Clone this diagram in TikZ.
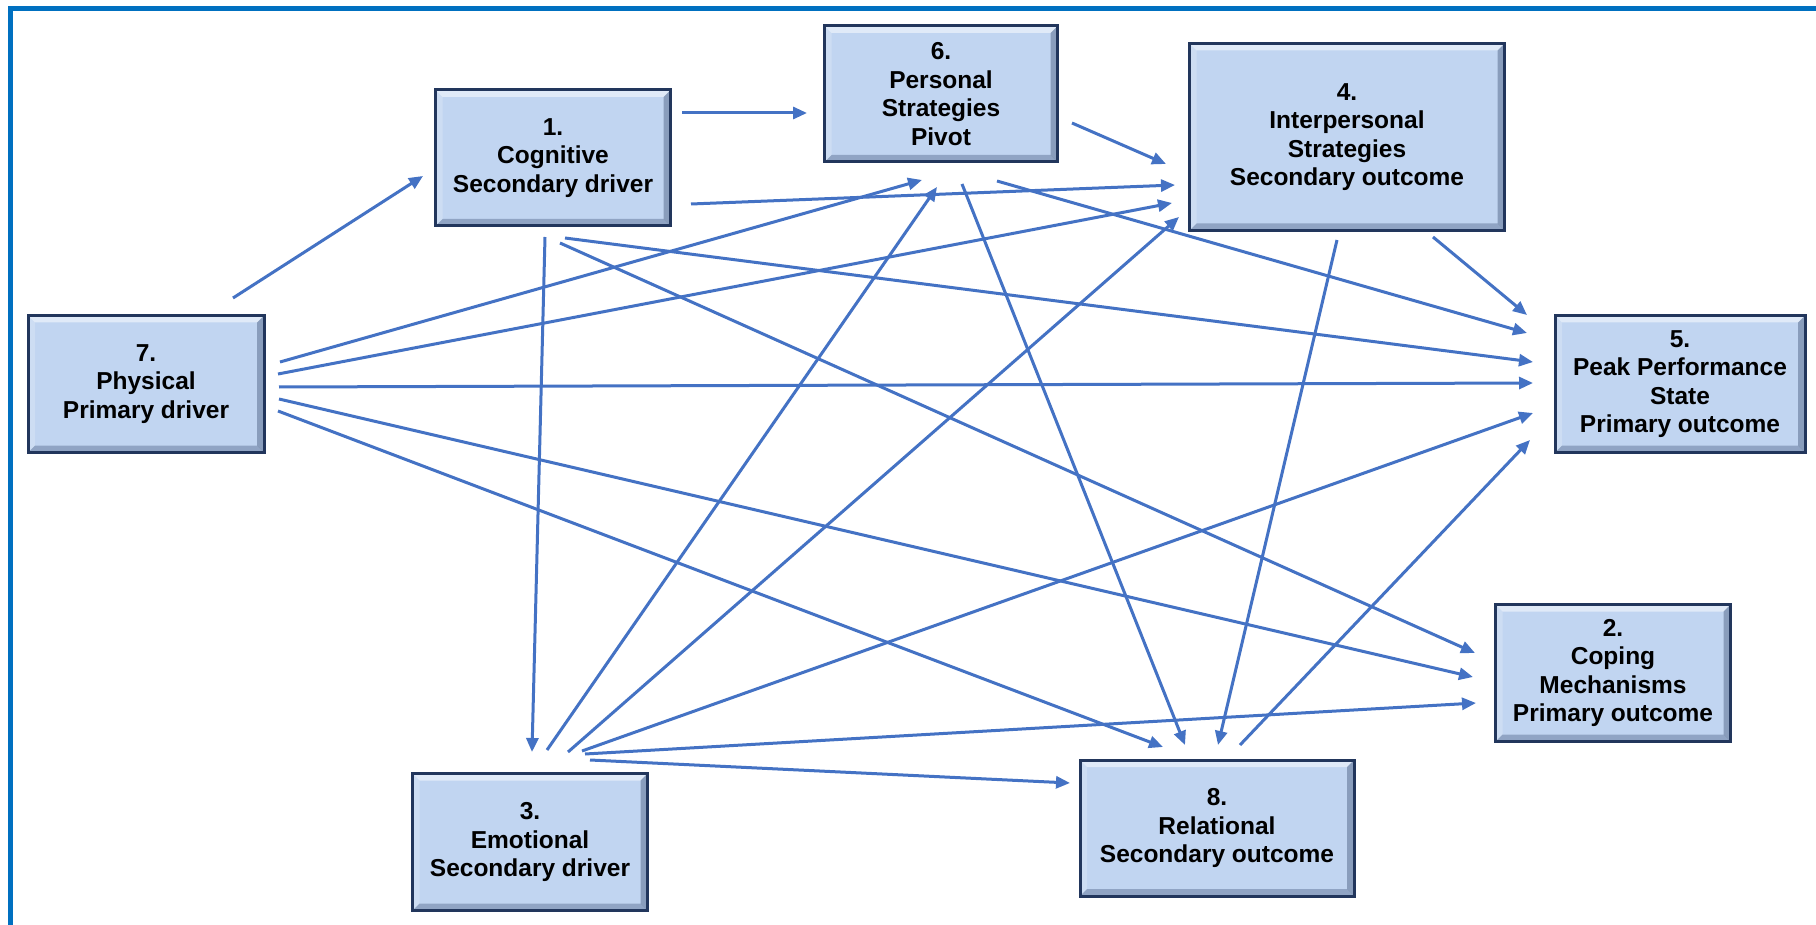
\documentclass[tikz,border=0pt]{standalone}
\usepackage{fontspec}
\setmainfont{Liberation Sans}
\usetikzlibrary{arrows.meta}
\definecolor{boxfill}{RGB}{193,213,241}
\definecolor{boxline}{RGB}{34,54,92}
\definecolor{arrowblue}{RGB}{68,114,196}
\definecolor{frameblue}{RGB}{0,112,192}
\tikzset{
  bevel/.style={path picture={
    \path (path picture bounding box.north west) coordinate (NW)
      (path picture bounding box.north east) coordinate (NE)
      (path picture bounding box.south east) coordinate (SE)
      (path picture bounding box.south west) coordinate (SW);
    \fill[white,opacity=.5] (NW) -- (NE) -- ([shift={(-7,7)}]NE) -- ([shift={(7,7)}]NW) -- cycle;
    \fill[white,opacity=.2] (SW) -- (NW) -- ([shift={(7,7)}]NW) -- ([shift={(7,-7)}]SW) -- cycle;
    \fill[boxline,opacity=.35] (NE) -- (SE) -- ([shift={(-7,-7)}]SE) -- ([shift={(-7,7)}]NE) -- cycle;
    \fill[boxline,opacity=.3] (SE) -- (SW) -- ([shift={(7,-7)}]SW) -- ([shift={(-7,-7)}]SE) -- cycle;
  }},
  factor/.style={draw=boxline, line width=3pt, fill=boxfill, bevel, align=center,
    inner sep=0pt, font=\bfseries\fontsize{24.5}{28.5}\selectfont},
  arr/.style={draw=arrowblue, line width=3pt, -{Triangle[length=14pt,width=12pt]}}
}
\begin{document}
\begin{tikzpicture}[x=1pt, y=-1pt, line join=miter]
  \useasboundingbox (0,0) rectangle (1816,925);
  \fill[white] (0,0) rectangle (1816,925);
  \draw[frameblue, line width=5pt] (10,925) -- (10,9) -- (1816,9);
  \node[factor, minimum width=235, minimum height=136] (n1) at (553,158) {1.\\Cognitive\\Secondary driver};
  \node[factor, minimum width=233, minimum height=136] (n6) at (941,94) {6.\\Personal\\Strategies\\Pivot};
  \node[factor, minimum width=315, minimum height=187] (n4) at (1347,137) {4.\\Interpersonal\\Strategies\\Secondary outcome};
  \node[factor, minimum width=250, minimum height=137] (n5) at (1680,384) {5.\\Peak Performance\\State\\Primary outcome};
  \node[factor, minimum width=236, minimum height=137] (n7) at (146,384) {7.\\Physical\\Primary driver};
  \node[factor, minimum width=235, minimum height=137] (n2) at (1613,673) {2.\\Coping\\Mechanisms\\Primary outcome};
  \node[factor, minimum width=235, minimum height=137] (n3) at (530,842) {3.\\Emotional\\Secondary driver};
  \node[factor, minimum width=274, minimum height=136] (n8) at (1217,828) {8.\\Relational\\Secondary outcome};
  \foreach \a/\ax/\ay/\b/\bx/\by in {
    n7/87/-86/n1/-130/18, n1/129/-45/n6/-134/19, n6/131/29/n4/-181/27,
    n1/138/46/n4/-172/48, n4/86/100/n5/-153/-69, n4/-10/103/n8/1/-83,
    n6/56/87/n5/-153/-51, n1/12/80/n5/-147/-22, n7/133/3/n5/-147/-1,
    n3/52/-91/n5/-147/29, n8/23/-83/n5/-150/56, n1/7/85/n2/-138/-20,
    n7/133/15/n2/-140/4, n3/55/-88/n2/-137/30, n7/132/27/n8/-54/-81,
    n6/21/90/n8/-32/-83, n1/-8/79/n3/2/-90, n3/17/-92/n6/-4/93,
    n3/38/-90/n4/-168/80, n7/134/-22/n6/-19/86, n7/132/-10/n4/-175/66,
    n3/60/-82/n8/-147/-45}
  \draw[arr] ([shift={(\ax,\ay)}]\a.center) -- ([shift={(\bx,\by)}]\b.center);
\end{tikzpicture}
\end{document}
